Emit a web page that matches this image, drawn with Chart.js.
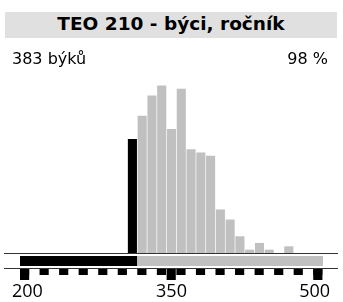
<!DOCTYPE html>
<html>
<head>
<meta charset="utf-8">
<script src="https://cdn.jsdelivr.net/npm/chart.js@4.4.1/dist/chart.umd.min.js"></script>
<style>
  html, body { margin: 0; padding: 0; background: #fff; }
  #wrap { position: relative; width: 343px; height: 302px; overflow: hidden; }
  #c { position: absolute; left: 0; top: 0; }
  #title { position: absolute; left: 5px; top: 12px; width: 332px; height: 26px; background: #e0e0e0;
           font: bold 18.5px "DejaVu Sans", sans-serif; line-height: 23px; text-align: center; color: #000; white-space: nowrap; }
  .sub { position: absolute; top: 51px; font: 16px "DejaVu Sans", sans-serif; line-height: 16px; color: #000; white-space: nowrap; }
  #subL { left: 12px; }
  #subR { right: 15px; }
</style>
</head>
<body>
<div id="wrap">
  <canvas id="c" width="343" height="302"></canvas>
  <div id="title">TEO 210 - býci, ročník</div>
  <div class="sub" id="subL">383 býků</div>
  <div class="sub" id="subR">98 %</div>
</div>
<script>
// ---- data ----
const binStarts = [200,210,220,230,240,250,260,270,280,290,300,310,320,330,340,350,360,370,380,390,400,410,420,430,440,450,460,470,480,490,500];
const counts    = [  0,  0,  0,  0,  0,  0,  0,  0,  0,  0,  0, 34, 41, 47, 50, 37, 49, 31, 30, 29, 13, 10,  5,  1,  3,  1,  0,  2,  0,  0,  0];
const threshold = 320;            // bins below are black, from here grey
const minorTickValues = [200,220,240,260,280,300,320,340,360,380,400,420,440,460,480,500];
const majorTickValues = [200,350,500];
const tickLabels = ['200','350','500'];

const BLACK = '#000000', GREY = '#c0c0c0', LINE = '#333333';

const decor = {
  id: 'decor',
  afterDatasetsDraw(chart) {
    const ctx = chart.ctx, x = chart.scales.x, a = chart.chartArea;
    const n = binStarts.length;
    const w = (a.right - a.left) / n;
    const leftOf = v => x.getPixelForValue(binStarts.indexOf(v)) - w / 2;
    const base = a.bottom;
    ctx.save();
    // baseline lines
    ctx.fillStyle = LINE;
    ctx.fillRect(a.left - 16, base, a.right - a.left + 31, 1);
    ctx.fillRect(a.left - 16, base + 15, a.right - a.left + 31, 1);
    // range band
    const xs = leftOf(binStarts[0]);
    const xt = leftOf(threshold);
    const xe = leftOf(binStarts[n - 1]) + w;
    ctx.fillStyle = BLACK;
    ctx.fillRect(xs, base + 3, xt - xs, 10);
    ctx.fillStyle = GREY;
    ctx.fillRect(xt, base + 3, xe - xt, 10);
    // tick squares
    ctx.fillStyle = BLACK;
    minorTickValues.forEach(v => ctx.fillRect(leftOf(v), base + 16, w - 0.6, 6));
    majorTickValues.forEach(v => ctx.fillRect(leftOf(v), base + 16, w - 0.6, 11));
    // tick labels
    ctx.font = '18px "Open Sans", sans-serif';
    ctx.textAlign = 'center';
    ctx.textBaseline = 'alphabetic';
    majorTickValues.forEach((v, i) => {
      let cx = leftOf(v) + w / 2;
      if (i === 0) cx += 2.5;
      if (i === majorTickValues.length - 1) cx -= 3.5;
      ctx.fillText(tickLabels[i], cx, base + 43.5);
    });
    ctx.restore();
  }
};

new Chart(document.getElementById('c'), {
  type: 'bar',
  data: {
    labels: binStarts.map(String),
    datasets: [{
      data: counts,
      backgroundColor: binStarts.map(v => v < threshold ? BLACK : GREY),
      borderWidth: 0,
      barPercentage: 0.93,
      categoryPercentage: 1.0
    }]
  },
  options: {
    responsive: false,
    animation: false,
    devicePixelRatio: 1,
    layout: { padding: { left: 20, right: 20, top: 52, bottom: 49 } },
    plugins: { legend: { display: false }, tooltip: { enabled: false }, title: { display: false } },
    scales: {
      x: { display: false, offset: true },
      y: { display: false, min: 0, max: 60 }
    }
  },
  plugins: [decor]
});
</script>
</body>
</html>
